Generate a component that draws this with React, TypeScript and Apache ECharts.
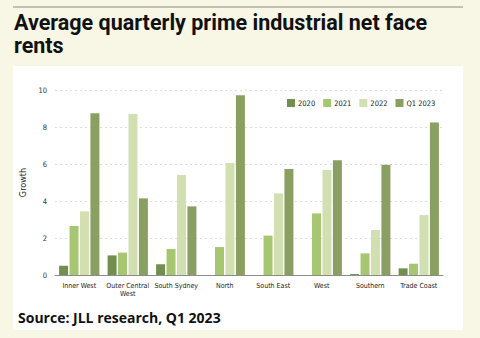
import React, { useEffect, useRef } from "react";
import * as echarts from "echarts";

const categories = ["Inner West", "Outer Central\nWest", "South Sydney", "North", "South East", "West", "Southern", "Trade Coast"];
const seriesNames = ["2020", "2021", "2022", "Q1 2023"];
const v2020 = [0.5, 1.06, 0.58, null, null, null, 0.05, 0.36];
const v2021 = [2.65, 1.21, 1.41, 1.51, 2.13, 3.33, 1.17, 0.61];
const v2022 = [3.44, 8.7, 5.4, 6.05, 4.41, 5.68, 2.43, 3.24];
const vQ1 = [8.74, 4.14, 3.71, 9.71, 5.73, 6.2, 5.96, 8.25];
const yTicks = { min: 0, max: 10, interval: 2 };

const colors = ["#738f4f", "#a6c672", "#d2dfb0", "#8aa062"];
const narrow = "'DejaVu Sans Condensed', 'Liberation Sans Narrow', sans-serif";

export default function App() {
  const ref = useRef<HTMLDivElement>(null);
  useEffect(() => {
    if (!ref.current) return;
    const chart = echarts.init(ref.current, null, { renderer: "svg" });
    const values = [v2020, v2021, v2022, vQ1];
    chart.setOption({
      animation: false,
      backgroundColor: "#f8f7e5",
      graphic: [
        { type: "line", shape: { x1: 13, y1: 7, x2: 463, y2: 7 }, style: { stroke: "#8a8a80", lineWidth: 1 }, z: -10 },
        { type: "rect", shape: { x: 13, y: 66, width: 450, height: 264 }, style: { fill: "#ffffff" }, z: -10 },
        { type: "text", left: 14, top: 11, style: { text: "Average quarterly prime industrial net face", font: "bold 21.5px Roboto, sans-serif", fill: "#111", lineHeight: 23 } },
        { type: "text", left: 14, top: 34, style: { text: "rents", font: "bold 21.5px Roboto, sans-serif", fill: "#111", lineHeight: 23 } },
        { type: "text", left: 18, top: 310, style: { text: "Source: JLL research, Q1 2023", font: "bold 14px 'Open Sans', sans-serif", fill: "#111" } },
      ],
      legend: {
        top: 94,
        left: 282,
        itemWidth: 8,
        itemHeight: 8,
        itemGap: 8,
        icon: "rect",
        textStyle: { fontSize: 7.5, fontFamily: narrow, color: "#222", padding: [0, 0, 0, -2] },
        data: seriesNames,
      },
      grid: { left: 55, right: 37, top: 90, bottom: 63, containLabel: false },
      xAxis: {
        type: "category",
        data: categories,
        axisLine: { lineStyle: { color: "#8c8c8c" } },
        axisTick: { show: false },
        axisLabel: { fontSize: 7, fontFamily: narrow, color: "#222", lineHeight: 8, margin: 7, interval: 0 },
      },
      yAxis: {
        type: "value",
        ...yTicks,
        name: "Growth",
        nameLocation: "middle",
        nameGap: 13,
        nameTextStyle: { fontSize: 9, fontFamily: narrow, color: "#222" },
        axisLine: { show: false },
        axisTick: { show: false },
        axisLabel: { fontSize: 7.5, fontFamily: narrow, color: "#333", margin: 8 },
        splitLine: { lineStyle: { color: "#dddddd", type: [2, 3] } },
      },
      series: seriesNames.map((n, i) => ({
        name: n,
        type: "bar",
        data: values[i],
        barWidth: 9,
        barGap: "16%",
        itemStyle: { color: colors[i] },
      })),
    });
    return () => chart.dispose();
  }, []);
  return <div ref={ref} style={{ position: "absolute", left: 0, top: 0, width: 480, height: 338 }} />;
}
